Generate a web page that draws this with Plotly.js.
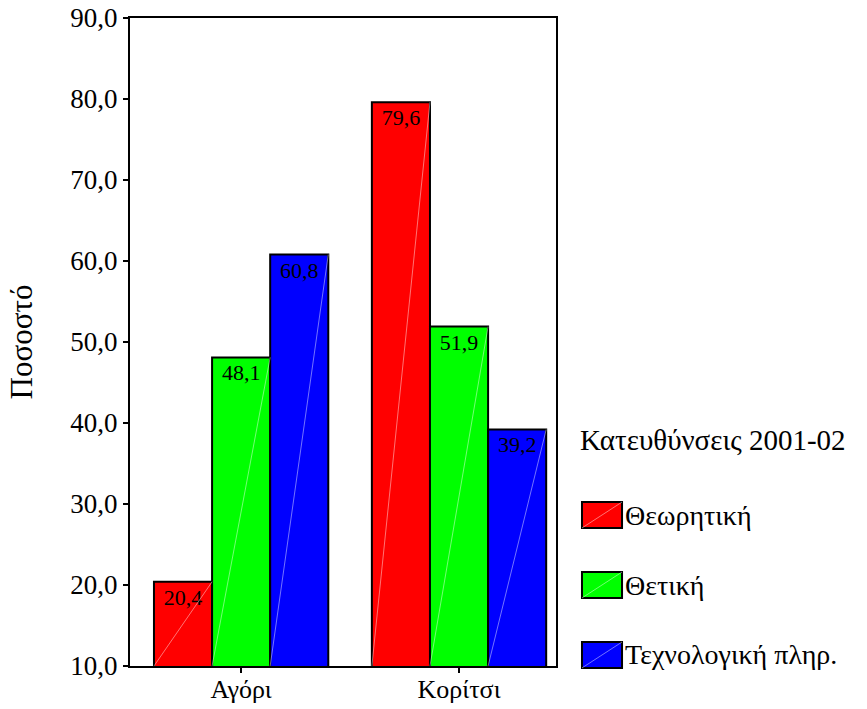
<!DOCTYPE html>
<html>
<head>
<meta charset="utf-8">
<script src="https://cdn.plot.ly/plotly-3.0.1.min.js"></script>
<style>html,body{margin:0;padding:0;background:#fff;}#chart{width:867px;height:709px;}</style>
</head>
<body>
<div id="chart"></div>
<script>
var categories = ["Αγόρι", "Κορίτσι"];
var seriesNames = ["Θεωρητική", "Θετική", "Τεχνολογική πληρ."];
var theoretiki = [20.4, 79.6];
var thetiki = [48.1, 51.9];
var technologiki = [60.8, 39.2];
var seriesColors = ["#ff0000", "#00ff00", "#0000ff"];
var yTickVals = [10, 20, 30, 40, 50, 60, 70, 80, 90];
var yTickText = ["10,0", "20,0", "30,0", "40,0", "50,0", "60,0", "70,0", "80,0", "90,0"];
var legendTitle = "Κατευθύνσεις 2001-02";
var yTitle = "Ποσοστό";

var FONT = '"Liberation Serif", "Times New Roman", serif';
var allValues = [theoretiki, thetiki, technologiki];
var yMin = 10;
var bargap = 0.2;
var nSeries = allValues.length;
var barW = (1 - bargap) / nSeries;

function fmt(v){ return v.toFixed(1).replace('.', ','); }

var traces = allValues.map(function(vals, s){
  return {
    type: 'bar',
    name: seriesNames[s],
    x: categories,
    y: vals,
    text: vals.map(fmt),
    textposition: 'inside',
    insidetextanchor: 'end',
    constraintext: 'none',
    textfont: {family: FONT, size: 22, color: '#000'},
    marker: {color: seriesColors[s], line: {color: '#000', width: 2}},
    hoverinfo: 'skip',
    showlegend: false
  };
});

var shapes = [];
allValues.forEach(function(vals, s){
  vals.forEach(function(v, i){
    var center = i + (s - (nSeries - 1) / 2) * barW;
    shapes.push({type: 'line', xref: 'x', yref: 'y',
      x0: center - barW / 2, y0: yMin, x1: center + barW / 2, y1: v,
      line: {color: 'rgba(255,255,255,0.45)', width: 1}});
  });
});

// Legend (manual, to reproduce the large swatches)
var annotations = [{
  xref: 'paper', yref: 'paper', x: 1.052, y: 0.349, xanchor: 'left', yanchor: 'middle',
  text: legendTitle, showarrow: false, font: {family: FONT, size: 29, color: '#000'}
}];
var legendY = [0.233, 0.125, 0.017];
seriesNames.forEach(function(name, s){
  var yc = legendY[s];
  var hh = 0.02;
  shapes.push({type: 'rect', xref: 'paper', yref: 'paper',
    x0: 1.061, x1: 1.155, y0: yc - hh, y1: yc + hh,
    fillcolor: seriesColors[s], line: {color: '#000', width: 2}});
  shapes.push({type: 'line', xref: 'paper', yref: 'paper',
    x0: 1.061, x1: 1.155, y0: yc - hh, y1: yc + hh,
    line: {color: 'rgba(255,255,255,0.45)', width: 1}});
  annotations.push({xref: 'paper', yref: 'paper', x: 1.158, y: yc,
    xanchor: 'left', yanchor: 'middle', text: name, showarrow: false,
    font: {family: FONT, size: 28, color: '#000'}});
});

var layout = {
  width: 867, height: 709,
  margin: {l: 130, r: 311, t: 18, b: 43},
  paper_bgcolor: '#fff', plot_bgcolor: '#fff',
  barmode: 'group', bargap: bargap, bargroupgap: 0,
  showlegend: false,
  font: {family: FONT, color: '#000'},
  xaxis: {
    type: 'category', range: [-0.51, 1.445],
    showline: true, linecolor: '#000', linewidth: 2, mirror: true,
    ticks: 'outside', ticklen: 5, tickwidth: 2, tickcolor: '#000',
    ticklabelstandoff: -6,
    tickfont: {family: FONT, size: 26, color: '#000'},
    showgrid: false, zeroline: false, fixedrange: true
  },
  yaxis: {
    range: [yMin, 90], tickvals: yTickVals, ticktext: yTickText,
    showline: true, linecolor: '#000', linewidth: 2, mirror: true,
    ticks: 'outside', ticklen: 5, tickwidth: 2, tickcolor: '#000',
    tickfont: {family: FONT, size: 27, color: '#000'},
    showgrid: false, zeroline: false, fixedrange: true,
    title: {text: yTitle, font: {family: FONT, size: 31, color: '#000'}, standoff: 28}
  },
  shapes: shapes,
  annotations: annotations,
  hovermode: false
};

Plotly.newPlot('chart', traces, layout, {displayModeBar: false, staticPlot: true});
</script>
</body>
</html>
